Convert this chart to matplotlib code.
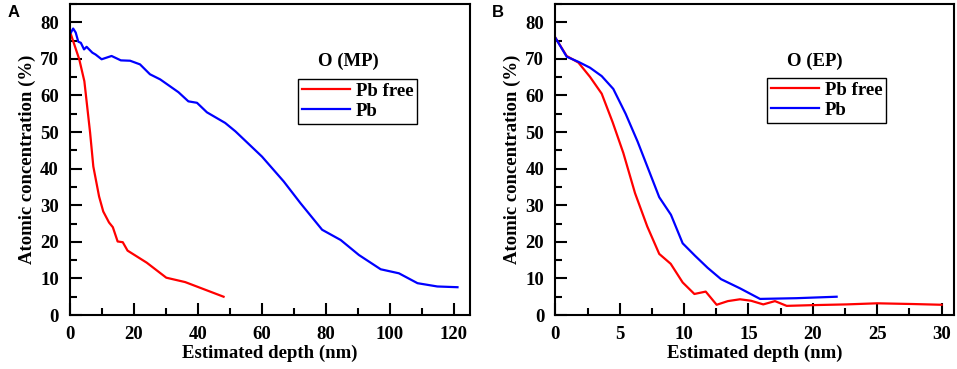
import matplotlib
matplotlib.use("Agg")
import matplotlib.pyplot as plt
from matplotlib.ticker import MultipleLocator

plt.rcParams['font.family'] = ['Liberation Serif', 'DejaVu Serif']
plt.rcParams['font.weight'] = 'bold'

# Panel A: O (MP)
mp_free_x = [0.3, 2.9, 4.5, 6.3, 7.3, 9.1, 10.4, 12.2, 13.4, 14.9, 16.5, 18.0, 24.0, 30.1, 36.0, 48.0]
mp_free_y = [76.7, 69.9, 63.9, 49.8, 40.6, 32.4, 28.3, 25.3, 24.0, 20.1, 19.9, 17.6, 14.3, 10.2, 9.0, 5.0]
mp_pb_x = [0.3, 1.0, 1.8, 2.6, 3.4, 4.4, 5.2, 7.0, 8.0, 9.9, 13.0, 15.9, 18.8, 21.9, 25.0, 28.2,
           33.9, 37.0, 39.7, 42.8, 48.5, 51.7, 60.0, 66.8, 72.0, 78.8, 84.6, 90.3, 97.1, 102.8,
           108.6, 114.8, 121.1]
mp_pb_y = [77.2, 78.3, 77.2, 74.7, 74.4, 72.6, 73.3, 71.7, 71.2, 69.9, 70.8, 69.6, 69.5, 68.5, 65.8, 64.4,
           60.9, 58.4, 58.0, 55.4, 52.5, 50.2, 43.3, 36.5, 30.6, 23.3, 20.5, 16.4, 12.5, 11.4,
           8.7, 7.8, 7.6]

# Panel B: O (EP)
ep_free_x = [0.0, 0.88, 1.79, 2.69, 3.6, 4.45, 5.28, 6.19, 7.14, 8.07, 8.96, 9.89, 10.8, 11.68,
             12.53, 13.4, 14.34, 15.2, 16.15, 17.06, 17.97, 20.0, 22.6, 25.0, 27.8, 30.0]
ep_free_y = [75.8, 70.8, 69.0, 65.1, 60.5, 52.7, 44.3, 33.3, 24.2, 16.7, 14.0, 8.9, 5.75, 6.4,
             2.8, 3.8, 4.3, 3.9, 2.9, 3.8, 2.5, 2.7, 2.9, 3.2, 3.0, 2.8]
ep_pb_x = [0.0, 0.88, 1.79, 2.69, 3.6, 4.5, 5.46, 6.39, 7.22, 8.07, 8.98, 9.89, 10.85, 11.83,
           12.87, 14.34, 15.9, 18.74, 21.85]
ep_pb_y = [75.8, 70.6, 69.2, 67.6, 65.3, 61.8, 55.0, 47.4, 39.9, 32.2, 27.4, 19.6, 16.2, 12.9,
           9.8, 7.3, 4.4, 4.6, 5.0]

fig = plt.figure(figsize=(9.57, 3.69), dpi=100)
axA = fig.add_axes([0.0731, 0.1463, 0.418, 0.8428])
axB = fig.add_axes([0.5803, 0.1463, 0.417, 0.8428])


def style(ax, xmax, xmaj, xmin):
    ax.set_xlim(0, xmax)
    ax.set_ylim(0, 85)
    ax.xaxis.set_major_locator(MultipleLocator(xmaj))
    ax.xaxis.set_minor_locator(MultipleLocator(xmin))
    ax.yaxis.set_major_locator(MultipleLocator(10))
    ax.yaxis.set_minor_locator(MultipleLocator(5))
    ax.tick_params(which='both', direction='in', width=1.5, labelsize=13.5, pad=8)
    ax.tick_params(which='major', length=8.5)
    ax.tick_params(which='minor', length=5)
    for s in ax.spines.values():
        s.set_linewidth(1.5)
    ax.set_xlabel('Estimated depth (nm)', fontsize=13.5, fontweight='bold', labelpad=1)
    ax.set_ylabel('Atomic concentration (%)', fontsize=13.5, fontweight='bold', labelpad=3)


style(axA, 125, 20, 10)
axA.plot(mp_free_x, mp_free_y, color='#ff0000', lw=1.6, label='Pb free')
axA.plot(mp_pb_x, mp_pb_y, color='#0000ff', lw=1.6, label='Pb')
axA.text(0.695, 0.817, 'O (MP)', transform=axA.transAxes, ha='center', va='center',
         fontsize=13.5, fontweight='bold')
legA = axA.legend(loc='upper left', bbox_to_anchor=(0.57, 0.759), borderaxespad=0,
                  fancybox=False, edgecolor='black', framealpha=1, fontsize=13.5,
                  handlelength=2.6, handletextpad=0.3, borderpad=0.2, labelspacing=0.15)
legA.get_frame().set_linewidth(1.0)

style(axB, 31, 5, 2.5)
axB.plot(ep_free_x, ep_free_y, color='#ff0000', lw=1.6, label='Pb free')
axB.plot(ep_pb_x, ep_pb_y, color='#0000ff', lw=1.6, label='Pb')
axB.text(0.651, 0.817, 'O (EP)', transform=axB.transAxes, ha='center', va='center',
         fontsize=13.5, fontweight='bold')
legB = axB.legend(loc='upper left', bbox_to_anchor=(0.53, 0.762), borderaxespad=0,
                  fancybox=False, edgecolor='black', framealpha=1, fontsize=13.5,
                  handlelength=2.6, handletextpad=0.3, borderpad=0.2, labelspacing=0.15)
legB.get_frame().set_linewidth(1.0)

fig.text(8 / 957, 1 - 17 / 369, 'A', fontsize=12, fontweight='bold', family='Liberation Sans')
fig.text(492 / 957, 1 - 17 / 369, 'B', fontsize=12, fontweight='bold', family='Liberation Sans')

fig.savefig('out.png', dpi=100)
